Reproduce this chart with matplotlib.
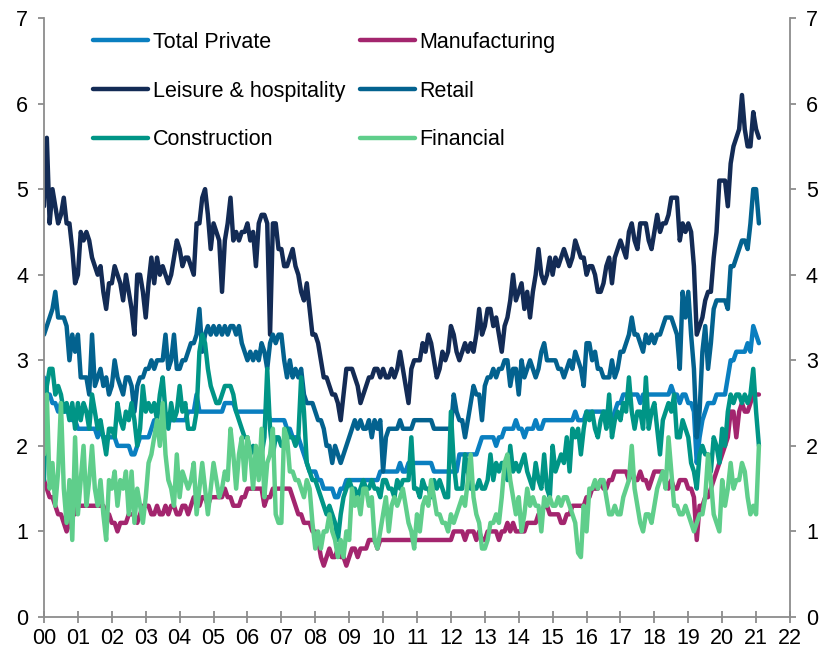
"""
Job openings rate by industry, monthly 2000 - early 2021.
Recreated as a static chart -> out.png
"""
import numpy as np
import matplotlib
matplotlib.use("Agg")
import matplotlib.pyplot as plt

plt.rcParams['font.family'] = ['Liberation Sans', 'DejaVu Sans']

# monthly values, one row per year (2000 ... 2020), then Jan-Feb 2021
total_private = [
    2.8, 2.6, 2.6, 2.5, 2.5, 2.4, 2.5, 2.4, 2.4, 2.4, 2.3, 2.3,
    2.2, 2.2, 2.2, 2.2, 2.2, 2.2, 2.2, 2.1, 2.2, 2.1, 2.1, 2.1,
    2.1, 2.1, 2.0, 2.0, 2.0, 2.0, 2.0, 1.9, 1.9, 2.0, 2.1, 2.1,
    2.1, 2.1, 2.2, 2.3, 2.2, 2.2, 2.3, 2.3, 2.3, 2.3, 2.3, 2.3,
    2.3, 2.3, 2.3, 2.4, 2.4, 2.4, 2.6, 2.4, 2.4, 2.4, 2.4, 2.4,
    2.4, 2.4, 2.4, 2.4, 2.5, 2.5, 2.5, 2.5, 2.4, 2.4, 2.4, 2.4,
    2.4, 2.4, 2.4, 2.4, 2.4, 2.4, 2.4, 2.4, 2.3, 2.3, 2.3, 2.3,
    2.3, 2.3, 2.2, 2.2, 2.1, 2.1, 2.1, 2.0, 1.9, 1.8, 1.7, 1.7,
    1.7, 1.6, 1.6, 1.5, 1.5, 1.5, 1.5, 1.4, 1.4, 1.5, 1.5, 1.6,
    1.6, 1.6, 1.6, 1.6, 1.6, 1.6, 1.6, 1.6, 1.6, 1.6, 1.6, 1.7,
    1.7, 1.7, 1.7, 1.7, 1.7, 1.7, 1.8, 1.7, 1.7, 1.8, 1.8, 1.8,
    1.8, 1.8, 1.8, 1.8, 1.8, 1.8, 1.7, 1.7, 1.7, 1.7, 1.7, 1.7,
    1.7, 1.7, 1.7, 1.9, 1.9, 1.9, 1.9, 1.9, 1.9, 1.9, 2.0, 2.1,
    2.1, 2.1, 2.1, 2.1, 2.0, 2.1, 2.1, 2.2, 2.2, 2.2, 2.2, 2.3,
    2.2, 2.2, 2.1, 2.2, 2.2, 2.2, 2.3, 2.2, 2.2, 2.3, 2.3, 2.3,
    2.3, 2.3, 2.3, 2.3, 2.3, 2.3, 2.3, 2.3, 2.4, 2.3, 2.3, 2.3,
    2.4, 2.4, 2.4, 2.4, 2.4, 2.4, 2.4, 2.4, 2.4, 2.3, 2.4, 2.5,
    2.5, 2.6, 2.6, 2.6, 2.6, 2.6, 2.6, 2.5, 2.6, 2.6, 2.6, 2.6,
    2.6, 2.6, 2.6, 2.6, 2.6, 2.6, 2.7, 2.6, 2.6, 2.5, 2.6, 2.6,
    2.5, 2.5, 2.4, 1.8, 2.1, 2.3, 2.4, 2.5, 2.5, 2.5, 2.6, 2.6,
    2.6, 2.6, 2.8, 3.0, 3.0, 3.1, 3.1, 3.1, 3.1, 3.2, 3.1, 3.4,
    3.3, 3.2,
]

manufacturing = [
    1.6, 1.5, 1.4, 1.4, 1.3, 1.2, 1.2, 1.1, 1.0, 1.1, 1.2, 1.2,
    1.3, 1.3, 1.3, 1.3, 1.3, 1.3, 1.3, 1.3, 1.3, 1.3, 1.2, 1.2,
    1.1, 1.1, 1.0, 1.1, 1.1, 1.1, 1.2, 1.2, 1.2, 1.1, 1.2, 1.3,
    1.3, 1.3, 1.2, 1.2, 1.3, 1.2, 1.2, 1.3, 1.2, 1.3, 1.3, 1.2,
    1.2, 1.3, 1.3, 1.2, 1.3, 1.4, 1.4, 1.3, 1.4, 1.4, 1.3, 1.4,
    1.4, 1.4, 1.4, 1.4, 1.5, 1.4, 1.4, 1.3, 1.3, 1.3, 1.4, 1.4,
    1.5, 1.5, 1.5, 1.5, 1.5, 1.5, 1.3, 1.4, 1.4, 1.5, 1.5, 1.5,
    1.5, 1.5, 1.5, 1.5, 1.4, 1.3, 1.2, 1.2, 1.1, 1.1, 1.1, 1.0,
    1.0, 0.9, 0.7, 0.6, 0.7, 0.8, 0.7, 0.7, 0.8, 0.7, 0.7, 0.6,
    0.7, 0.8, 0.8, 0.7, 0.8, 0.8, 0.8, 0.9, 0.9, 0.9, 0.8, 0.9,
    0.9, 0.9, 0.9, 0.9, 0.9, 0.9, 0.9, 0.9, 0.9, 0.9, 0.9, 0.9,
    0.9, 0.9, 0.9, 0.9, 0.9, 0.9, 0.9, 0.9, 0.9, 0.9, 0.9, 0.9,
    0.9, 1.0, 1.0, 1.0, 1.0, 0.9, 1.0, 1.0, 1.0, 0.9, 1.0, 0.9,
    0.9, 1.0, 1.0, 1.0, 1.0, 0.9, 1.0, 1.0, 1.1, 1.0, 1.1, 1.0,
    1.0, 1.0, 1.0, 1.1, 1.1, 1.1, 1.1, 1.2, 1.2, 1.3, 1.3, 1.2,
    1.2, 1.2, 1.2, 1.1, 1.1, 1.2, 1.2, 1.3, 1.3, 1.3, 1.3, 1.3,
    1.4, 1.4, 1.5, 1.5, 1.5, 1.6, 1.5, 1.5, 1.6, 1.6, 1.7, 1.7,
    1.7, 1.7, 1.7, 1.6, 1.7, 1.6, 1.6, 1.7, 1.6, 1.6, 1.5, 1.6,
    1.7, 1.7, 1.7, 1.7, 1.6, 1.5, 1.6, 1.5, 1.5, 1.6, 1.6, 1.6,
    1.5, 1.5, 1.4, 0.9, 1.3, 1.3, 1.4, 1.4, 1.5, 1.6, 1.7, 1.8,
    1.9, 2.0, 2.1, 2.4, 2.4, 2.1, 2.4, 2.5, 2.4, 2.4, 2.5, 2.6,
    2.6, 2.6,
]

leisure = [
    4.8, 5.6, 4.6, 5.0, 4.8, 4.6, 4.7, 4.9, 4.6, 4.6, 4.3, 3.9,
    4.0, 4.5, 4.4, 4.5, 4.4, 4.2, 4.1, 4.0, 4.1, 3.8, 3.6, 3.9,
    3.9, 4.1, 4.0, 3.9, 3.7, 4.0, 3.8, 3.6, 3.3, 4.0, 4.0, 3.8,
    3.5, 3.9, 4.2, 3.9, 4.2, 4.0, 4.1, 4.0, 3.9, 4.0, 4.2, 4.4,
    4.3, 4.1, 4.2, 4.2, 4.1, 4.0, 4.6, 4.6, 4.9, 5.0, 4.7, 4.3,
    4.6, 4.5, 4.4, 3.8, 4.4, 4.6, 4.9, 4.4, 4.5, 4.4, 4.5, 4.5,
    4.6, 4.4, 4.5, 4.1, 4.6, 4.7, 4.7, 4.6, 3.3, 4.6, 4.6, 4.3,
    4.3, 4.1, 4.1, 4.2, 4.3, 4.1, 4.0, 3.8, 3.7, 3.9, 3.6, 3.3,
    3.3, 3.2, 3.0, 2.8, 2.8, 2.7, 2.6, 2.6, 2.5, 2.3, 2.6, 2.9,
    2.9, 2.9, 2.8, 2.7, 2.5, 2.6, 2.7, 2.8, 2.8, 2.9, 2.9, 2.8,
    2.9, 2.8, 2.8, 2.9, 2.8, 2.9, 3.1, 2.9, 2.7, 2.5, 2.9, 3.0,
    3.0, 3.0, 3.2, 3.1, 3.3, 3.2, 3.0, 2.8, 2.9, 3.1, 3.0, 3.1,
    3.4, 3.3, 3.1, 3.0, 3.1, 3.2, 3.1, 3.2, 3.1, 3.3, 3.6, 3.3,
    3.4, 3.6, 3.6, 3.4, 3.5, 3.3, 3.1, 3.4, 3.5, 3.7, 4.0, 3.7,
    3.8, 3.9, 3.6, 3.8, 3.5, 3.8, 4.0, 4.3, 4.0, 3.9, 4.0, 4.2,
    4.0, 4.2, 4.1, 4.2, 4.3, 4.2, 4.1, 4.2, 4.4, 4.3, 4.2, 4.2,
    4.0, 4.1, 4.1, 4.0, 3.8, 3.8, 3.9, 4.1, 4.2, 3.9, 4.2, 4.3,
    4.4, 4.3, 4.2, 4.5, 4.6, 4.4, 4.3, 4.6, 4.6, 4.6, 4.4, 4.3,
    4.5, 4.7, 4.5, 4.6, 4.6, 4.7, 4.9, 4.9, 4.9, 4.4, 4.6, 4.5,
    4.6, 4.5, 4.1, 3.3, 3.4, 3.5, 3.7, 3.8, 3.8, 4.2, 4.5, 5.1,
    5.1, 5.1, 4.8, 5.3, 5.5, 5.6, 5.7, 6.1, 5.7, 5.5, 5.5, 5.9,
    5.7, 5.6,
]

retail = [
    3.3, 3.4, 3.5, 3.6, 3.8, 3.5, 3.5, 3.5, 3.4, 3.0, 3.3, 3.1,
    3.3, 2.8, 2.8, 2.8, 2.6, 3.3, 2.7, 2.8, 2.9, 2.7, 2.8, 2.6,
    2.7, 3.0, 2.8, 2.7, 2.6, 2.8, 2.8, 2.7, 2.4, 2.7, 2.8, 2.8,
    2.9, 2.9, 3.0, 2.9, 3.0, 3.0, 3.0, 3.3, 2.9, 3.0, 3.3, 2.9,
    2.9, 3.0, 3.0, 3.1, 3.2, 3.2, 3.3, 3.6, 3.1, 3.3, 3.4, 3.3,
    3.4, 3.3, 3.4, 3.3, 3.4, 3.3, 3.4, 3.4, 3.3, 3.4, 3.2, 3.1,
    3.0, 3.1, 3.0, 3.1, 3.0, 3.2, 3.1, 2.9, 3.2, 3.3, 3.2, 3.3,
    3.3, 3.0, 2.8, 3.0, 2.8, 2.9, 2.8, 2.9, 2.6, 2.5, 2.5, 2.5,
    2.4, 2.3, 2.3, 2.2, 2.0, 2.0, 1.8, 2.0, 1.9, 1.8, 1.9, 2.0,
    2.1, 2.2, 2.3, 2.2, 2.3, 2.2, 2.2, 2.3, 2.1, 2.3, 2.2, 2.3,
    1.7, 2.1, 2.2, 2.2, 2.2, 2.2, 2.3, 2.2, 2.2, 2.2, 2.2, 2.3,
    2.3, 2.3, 2.3, 2.3, 2.3, 2.3, 2.2, 2.2, 2.2, 2.2, 2.2, 2.2,
    2.2, 2.6, 2.4, 2.3, 2.3, 2.1, 2.3, 2.5, 2.7, 2.6, 2.6, 2.3,
    2.7, 2.8, 2.8, 2.9, 2.8, 2.9, 2.9, 3.0, 3.0, 2.7, 2.9, 2.9,
    2.6, 3.0, 2.8, 2.9, 3.0, 2.9, 2.8, 2.9, 3.1, 3.2, 3.0, 3.0,
    3.0, 3.0, 2.9, 2.9, 2.8, 2.9, 3.0, 2.9, 3.1, 3.0, 2.9, 2.7,
    3.2, 3.2, 3.0, 3.1, 2.9, 2.9, 2.8, 2.8, 2.8, 3.0, 2.8, 2.9,
    3.1, 3.1, 3.2, 3.3, 3.5, 3.3, 3.3, 3.2, 3.1, 3.3, 3.2, 3.3,
    3.2, 3.3, 3.3, 3.4, 3.5, 3.5, 3.5, 3.4, 3.3, 2.9, 3.8, 3.5,
    3.8, 3.3, 2.9, 2.1, 2.4, 3.1, 3.4, 2.9, 3.2, 3.6, 3.7, 3.7,
    3.7, 3.7, 3.6, 4.1, 4.1, 4.2, 4.3, 4.4, 4.4, 4.3, 4.6, 5.0,
    5.0, 4.6,
]

construction = [
    1.6, 2.7, 2.9, 2.9, 2.6, 2.7, 2.6, 2.4, 2.5, 2.3, 2.5, 2.2,
    2.5, 2.3, 2.5, 2.4, 2.2, 2.6, 2.4, 2.2, 2.3, 2.1, 1.9, 2.2,
    2.2, 2.1, 2.5, 2.3, 2.2, 2.4, 2.3, 2.5, 2.3, 2.0, 2.2, 2.7,
    2.4, 2.5, 2.4, 2.5, 2.3, 2.6, 2.8, 2.4, 2.2, 2.5, 2.3, 2.4,
    2.7, 2.4, 2.5, 2.2, 2.2, 2.2, 2.4, 3.1, 3.3, 3.2, 2.9, 2.7,
    2.6, 2.5, 2.5, 2.6, 2.7, 2.7, 2.7, 2.6, 2.4, 2.3, 2.2, 2.1,
    2.1, 1.9, 2.0, 1.9, 1.9, 1.9, 2.1, 2.9, 2.2, 1.9, 2.1, 2.1,
    2.0, 2.0, 2.2, 2.1, 2.1, 2.0, 2.1, 2.8, 2.4, 1.8, 1.7, 1.6,
    1.6, 1.5, 1.4, 1.3, 1.2, 1.3, 1.2, 1.1, 0.9, 1.2, 1.4, 1.5,
    1.6, 1.5, 1.5, 1.4, 1.5, 1.6, 1.5, 1.5, 1.6, 1.5, 1.5, 1.4,
    1.6, 1.6, 1.5, 1.5, 1.4, 1.6, 1.5, 1.6, 1.6, 1.6, 2.1, 1.5,
    1.5, 1.4, 1.6, 1.5, 1.5, 1.4, 1.6, 1.5, 1.6, 1.5, 1.4, 1.4,
    2.4, 1.8, 1.5, 1.5, 1.5, 1.9, 1.7, 1.5, 1.5, 1.5, 1.6, 1.5,
    1.5, 1.6, 1.9, 1.6, 1.8, 1.7, 1.8, 1.8, 1.6, 2.0, 1.7, 1.8,
    1.7, 1.8, 1.9, 1.7, 1.6, 1.5, 1.8, 1.6, 1.5, 1.9, 1.5, 1.4,
    2.0, 1.7, 1.8, 1.9, 1.8, 2.1, 1.7, 2.2, 2.1, 2.2, 1.9, 2.2,
    2.4, 2.3, 2.4, 2.2, 2.1, 2.3, 2.4, 2.2, 2.6, 2.1, 2.3, 2.4,
    2.3, 2.5, 2.4, 2.8, 2.4, 2.2, 2.4, 2.4, 2.2, 2.8, 2.2, 2.4,
    2.5, 2.2, 1.9, 2.3, 2.4, 2.5, 2.4, 2.6, 2.1, 2.1, 2.3, 2.2,
    2.1, 1.8, 1.7, 1.5, 1.9, 2.0, 1.9, 1.9, 1.7, 2.1, 2.0, 1.8,
    2.2, 2.0, 2.4, 2.6, 2.5, 2.6, 2.6, 2.5, 2.6, 2.5, 2.6, 2.9,
    2.4, 2.0,
]

financial = [
    1.9, 2.6, 1.5, 1.8, 1.3, 1.7, 2.5, 1.5, 1.1, 1.6, 0.9, 2.1,
    1.2, 1.6, 2.0, 1.3, 1.6, 2.0, 1.5, 1.3, 1.6, 1.2, 0.9, 1.6,
    1.5, 1.7, 1.3, 1.6, 1.5, 1.7, 1.2, 1.7, 1.1, 1.5, 1.3, 1.1,
    1.4, 1.8, 1.9, 2.1, 2.3, 2.0, 2.5, 1.9, 1.6, 1.5, 1.3, 1.9,
    1.4, 1.7, 1.6, 1.5, 1.6, 1.8, 1.2, 1.5, 1.8, 1.5, 1.2, 1.5,
    1.8, 1.6, 1.4, 1.5, 1.7, 1.6, 2.2, 1.9, 1.5, 1.9, 2.1, 1.6,
    2.1, 1.9, 1.5, 2.0, 1.6, 2.2, 1.4, 1.8, 1.9, 2.2, 1.2, 1.1,
    1.1, 2.2, 2.1, 1.7, 1.7, 1.6, 1.6, 1.5, 1.4, 1.6, 1.5, 1.1,
    0.8, 1.0, 0.8, 1.0, 1.0, 1.2, 1.0, 0.9, 0.7, 0.9, 0.7, 1.0,
    0.9, 1.5, 1.3, 1.4, 1.2, 1.5, 1.5, 1.3, 1.4, 0.9, 0.8, 1.0,
    1.2, 1.4, 1.0, 1.3, 1.4, 1.3, 1.4, 1.5, 1.3, 1.1, 1.0, 0.8,
    1.2, 1.0, 1.3, 1.4, 1.3, 1.6, 1.4, 1.2, 1.2, 1.1, 1.1, 1.0,
    1.2, 1.1, 1.2, 1.3, 1.4, 1.3, 1.6, 1.9, 1.4, 1.2, 1.1, 0.8,
    0.8, 0.9, 1.1, 1.1, 1.2, 1.1, 1.4, 1.8, 1.9, 1.6, 1.4, 1.2,
    1.4, 1.0, 1.2, 1.5, 1.3, 1.4, 1.3, 1.3, 1.0, 1.4, 1.3, 1.4,
    1.3, 1.3, 1.4, 1.3, 1.4, 1.4, 1.3, 1.2, 1.1, 0.75, 0.7, 1.3,
    1.0, 1.5, 1.5, 1.6, 1.5, 1.6, 1.6, 1.4, 1.2, 1.2, 1.3, 1.2,
    1.2, 1.4, 1.5, 1.6, 2.0, 1.5, 1.3, 1.1, 1.0, 1.2, 1.2, 1.1,
    1.3, 1.5, 1.6, 1.7, 1.5, 2.1, 1.7, 1.3, 1.3, 1.2, 1.2, 1.3,
    1.2, 1.1, 1.0, 1.1, 1.2, 1.2, 1.4, 1.9, 1.6, 1.2, 1.1, 1.0,
    1.6, 1.3, 1.5, 1.8, 1.5, 1.6, 1.6, 1.8, 1.7, 1.4, 1.2, 1.3,
    1.2, 2.0,
]

series = [
    ("Total Private", total_private, "#0A7FC0"),
    ("Manufacturing", manufacturing, "#A3256E"),
    ("Leisure & hospitality", leisure, "#132B55"),
    ("Retail", retail, "#03628F"),
    ("Construction", construction, "#009586"),
    ("Financial", financial, "#5FCE8B"),
]

years = list(range(2000, 2023))
year_labels = [f"{y % 100:02d}" for y in years]

fig = plt.figure(figsize=(8.26, 6.55), dpi=100)
ax = fig.add_axes([44 / 826, 38 / 655, 746 / 826, 599 / 655])

lines = {}
for name, vals, col in series:
    vals = np.asarray(vals, dtype=float)
    x = 2000 + np.arange(len(vals)) / 12.0
    ln, = ax.plot(x, vals, color=col, lw=3.2, solid_joinstyle='round',
                  solid_capstyle='round', label=name)
    lines[name] = ln

ax.set_xlim(2000, 2022)
ax.set_ylim(0, 7)
ax.set_xticks(years)
ax.set_xticklabels(year_labels)
ax.set_yticks(range(8))

spine_col = "#8C8C8C"
for side in ("left", "right", "bottom"):
    ax.spines[side].set_color(spine_col)
    ax.spines[side].set_linewidth(1.3)
ax.spines["top"].set_visible(False)

fs = 15.5
ax.tick_params(axis="x", direction="inout", length=8, width=1.3,
               color=spine_col, labelsize=fs, pad=4)
ax.tick_params(axis="y", direction="out", length=4.5, width=1.3,
               color=spine_col, labelsize=fs, pad=7,
               right=True, labelright=True)

# legend fills column-wise, so reorder to get the 3x2 row layout
order = ["Total Private", "Leisure & hospitality", "Construction",
         "Manufacturing", "Retail", "Financial"]
ax.legend([lines[n] for n in order], order, ncol=2, frameon=False,
          loc="upper left", bbox_to_anchor=(93 / 826, 1 - 32 / 655),
          bbox_transform=fig.transFigure, fontsize=fs, borderpad=0,
          handlelength=2.55, handletextpad=0.22, labelspacing=1.28,
          columnspacing=0.7, borderaxespad=0)

fig.savefig("out.png", dpi=100)
